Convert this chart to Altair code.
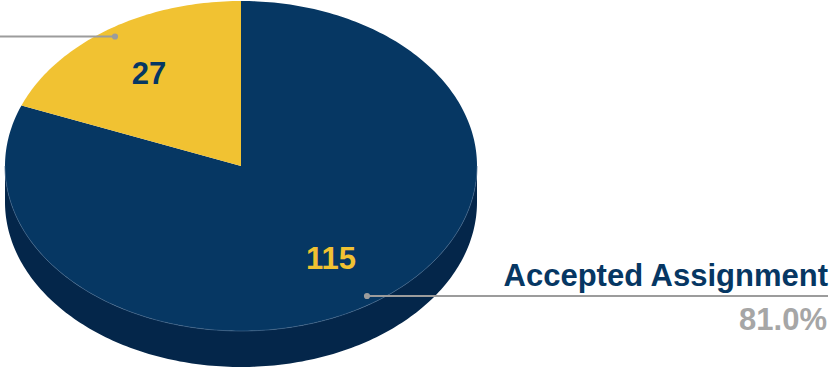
import math
import altair as alt

categories = ["Other", "Accepted Assignment"]
counts = [27, 115]
share_labels = ["19.0%", "81.0%"]

NAVY = "#063763"
NAVY_DARK = "#04264A"
GOLD = "#F1C232"
GREY = "#9C9C9C"
FONT = "Liberation Sans"

# the disc is drawn as a circle of radius 1 squashed vertically
SQUASH = 165 / 236
DEPTH = 36 / 236
STEPS = 180


def rim(angle):
    # clockwise from twelve o'clock, y pointing down
    return [math.sin(angle), -SQUASH * math.cos(angle)]


def feature(name, ring):
    return {
        "type": "Feature",
        "properties": {"name": name},
        "geometry": {"type": "Polygon", "coordinates": [ring + [ring[0]]]},
    }


def sector(name, start, stop):
    n = max(2, int(STEPS * abs(stop - start) / math.pi))
    arc = [rim(start + (stop - start) * i / n) for i in range(n + 1)]
    return feature(name, [[0, 0]] + arc)


def wall():
    # lower half of the rim, plus the same half pushed down by the disc depth
    top = [rim(math.pi / 2 + math.pi * i / STEPS) for i in range(STEPS + 1)]
    bottom = [[x, y + DEPTH] for x, y in reversed(top)]
    return feature("wall", top + bottom)


total = sum(counts)
gold_sweep = 2 * math.pi * counts[0] / total
slices = [
    wall(),
    sector(categories[1], 0, 2 * math.pi - gold_sweep),
    sector(categories[0], 2 * math.pi - gold_sweep, 2 * math.pi),
]

projection = dict(type="identity", scale=236, translate=[241, 166])

pie = (
    alt.Chart(alt.Data(values=slices))
    .mark_geoshape(strokeWidth=0)
    .encode(
        fill=alt.Fill(
            "properties.name:N",
            scale=alt.Scale(
                domain=["wall", categories[1], categories[0]],
                range=[NAVY_DARK, NAVY, GOLD],
            ),
            legend=None,
        )
    )
    .project(**projection)
)

# hairline where the top face meets the wall
front_edge = {
    "type": "Feature",
    "properties": {"name": "edge"},
    "geometry": {
        "type": "LineString",
        "coordinates": [
            rim(math.pi / 2 + math.pi * i / STEPS) for i in range(STEPS + 1)
        ],
    },
}
edge = (
    alt.Chart(alt.Data(values=[front_edge]))
    .mark_geoshape(filled=False, stroke="#3E6286", strokeWidth=0.7)
    .project(**projection)
)


def leader(x1, x2, y):
    return alt.Chart(alt.Data(values=[{"k": 0}])).mark_rule(
        color=GREY, strokeWidth=2
    ).encode(x=alt.value(x1), x2=alt.value(x2), y=alt.value(y))


def dot(x, y):
    return alt.Chart(alt.Data(values=[{"k": 0}])).mark_circle(
        color=GREY, size=38, opacity=1
    ).encode(x=alt.value(x), y=alt.value(y))


def label(value, x, y, size, color, align="center"):
    return alt.Chart(alt.Data(values=[{"t": str(value)}])).mark_text(
        font=FONT,
        fontWeight="bold",
        fontSize=size,
        color=color,
        align=align,
        baseline="alphabetic",
    ).encode(x=alt.value(x), y=alt.value(y), text="t:N")


chart = alt.layer(
    pie,
    edge,
    leader(0, 115, 36.5),
    dot(115, 36.5),
    leader(367, 828, 296),
    dot(367, 296),
    label(counts[0], 149, 83.5, 31, NAVY),
    label(counts[1], 331, 269, 31, GOLD),
    label(categories[1], 828, 285.5, 31, NAVY, "right"),
    label(share_labels[1], 827, 329.5, 31, "#A6A6A6", "right"),
).properties(
    width=831,
    height=368,
    padding=0,
    autosize=alt.AutoSizeParams(type="none"),
    background="white",
).configure_view(stroke=None)

chart.save("out.html", embed_options={"renderer": "svg", "actions": False})
